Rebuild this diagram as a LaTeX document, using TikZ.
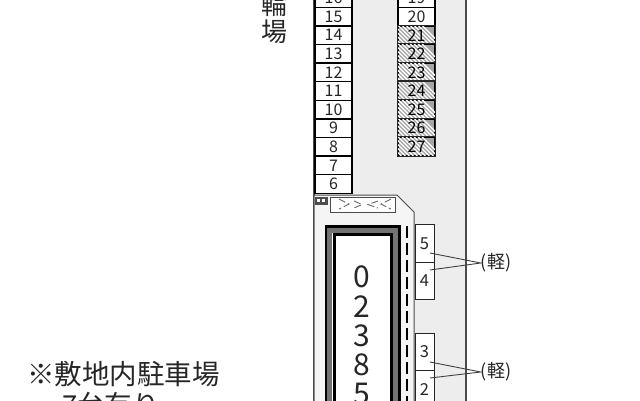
\documentclass[tikz,border=0pt]{standalone}
\usepackage{fontspec}
\setmainfont{Noto Sans CJK JP}
\begin{document}
\begin{tikzpicture}[x=1pt,y=-1pt,
  slot/.style={draw=black,line width=1.5pt,fill=white,minimum width=37pt,minimum height=18.6pt,inner sep=0pt,font=\fontsize{16}{16}\selectfont,text=black!85},
  kei/.style={draw=black!85,line width=.9pt,fill=white,minimum width=19pt,inner sep=0pt,font=\fontsize{16.5}{16.5}\selectfont,text=black!85},
  lbl/.style={inner sep=0pt,text=black!85},
  leader/.style={draw=black!75,line width=.9pt}]
\useasboundingbox (0,0) rectangle (640,400);
\clip (0,0) rectangle (640,400);
% site
\fill[white] (0,0) rectangle (640,400);
\fill[black!7] (313,-2) rectangle (466,402);
\draw[black!70,line width=1.4pt] (466,-2) -- (466,402);
\draw[black!70,line width=1.2pt] (314,-2) -- (314,402);
% raised block
\draw[black!70,line width=1pt,fill=black!4] (314,402) -- (314,195) -- (397,195) -- (414,212) -- (414,402);
% left column
\foreach \n [count=\i from 0] in {16,15,14,13,12,11,10,9,8,7,6}
  \node[slot] (L\n) at (333.5,{-2+\i*18.6}) {\n};
% right column
\node[slot] (R19) at (416.5,-2) {19};
\node[slot] (R20) at (416.5,16.6) {20};
\foreach \n [count=\i from 2] in {21,...,27}{
  \node[slot,fill=black!35] (R\n) at (416.5,{-2+\i*18.6}) {};
  \begin{scope}
    \clip (R\n.south west) rectangle (R\n.north east);
    \foreach \k in {-4,0,...,44}
      \draw[white,line width=1.3pt] ({398+\k-20},{-2+\i*18.6-10}) -- ++(20,20);
  \end{scope}
  \draw[black!85,line width=1.2pt] (R\n.south west) rectangle (R\n.north east);
  \node[lbl,font=\fontsize{16}{16}\selectfont,text=black] at (R\n) {\n};
}
% small device
\fill[black!70] (315,197) rectangle (328,205);
\fill[white] (317,199) rectangle (320,202);
\fill[white] (322,199) rectangle (325,202);
% zigzag panel
\draw[black!70,line width=.9pt,fill=white] (330,197) rectangle (395,212);
\draw[black!60,line width=.9pt,dash pattern=on 7pt off 3pt]
  (339,199) -- (349,204) -- (339,209) (354,201) -- (362,204.5) -- (354,208)
  (378,201) -- (368,204.5) -- (378,208) (391,199) -- (381,204) -- (391,209);
% building
\node[draw=black,line width=3pt,fill=white,minimum width=73pt,minimum height=250pt,anchor=north,inner sep=0pt] (outer) at (362.5,224.5) {};
\node[draw=black!55,line width=4.5pt,minimum width=66pt,minimum height=250pt,anchor=north,inner sep=0pt] (band) at (362.5,228) {};
\node[draw=black,line width=3pt,fill=white,minimum width=57pt,minimum height=250pt,anchor=north,inner sep=0pt] (inner) at (362.5,232.5) {};
\foreach \d/\y in {0/277,2/307,3/336,8/365,5/394}
  \node[lbl,font=\fontsize{30}{30}\selectfont] (d\d) at (362,\y) {\d};
% dashed line
\draw[black,line width=1.2pt,dash pattern=on 12pt off 5pt] (407,226) -- (407,402);
% light vehicle slots
\node[kei,minimum height=37.5pt] (K5) at (424.5,243.5) {5};
\node[kei,minimum height=37.5pt] (K4) at (424.5,281) {4};
\node[kei,minimum height=37.5pt] (K3) at (424.5,352) {3};
\node[kei,minimum height=37.5pt] (K2) at (424.5,389.5) {2};
\node[lbl,font=\fontsize{18}{18}\selectfont] (T1) at (496,263) {(軽)};
\node[lbl,font=\fontsize{18}{18}\selectfont] (T2) at (496,372) {(軽)};
\coordinate (a5) at (430,253);
\coordinate (a4) at (430,270);
\coordinate (a3) at (430,362);
\coordinate (a2) at (430,378);
\draw[leader] (a5) -- (T1.west) -- (a4);
\draw[leader] (a3) -- (T2.west) -- (a2);
% labels
\node[lbl,font=\fontsize{26}{26}\selectfont] (w1) at (274,5) {輪};
\node[lbl,font=\fontsize{26}{26}\selectfont] (w2) at (274,32) {場};
\node[lbl,anchor=west,font=\fontsize{27.5}{27.5}\selectfont] (n1) at (27,374) {※敷地内駐車場};
\node[lbl,anchor=west,font=\fontsize{27.5}{27.5}\selectfont] (n2) at (62,405) {7台有り};
\end{tikzpicture}
\end{document}
